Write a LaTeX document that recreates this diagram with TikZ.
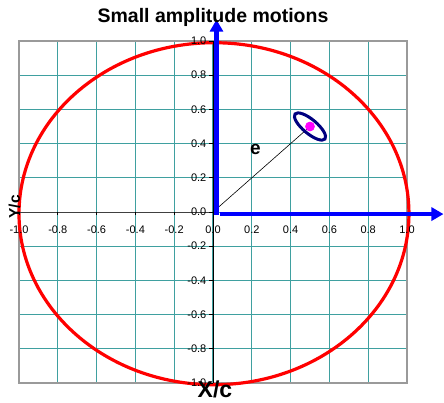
\documentclass[tikz,border=0pt]{standalone}
\usepackage{fontspec}
\setmainfont{Liberation Sans}
\usetikzlibrary{positioning,arrows.meta,shapes.geometric}
\definecolor{GridTeal}{HTML}{3FA0A0}
\definecolor{FrameGray}{HTML}{9A9A9A}
\definecolor{AxisBlue}{HTML}{0000FF}
\definecolor{OrbitNavy}{HTML}{000080}
\definecolor{DotMagenta}{HTML}{FF00FF}
\definecolor{RingRed}{HTML}{FF0000}

\begin{document}
\begin{tikzpicture}[>=Latex,x=194pt,y=171pt]
    \tikzstyle{ticklbl}=[font=\fontsize{11}{11}\selectfont,inner sep=0pt]
    \tikzstyle{axlbl}=[font=\bfseries\fontsize{23}{23}\selectfont,inner sep=0pt]
    \tikzstyle{bluearrow}=[-{Triangle[length=12pt,width=13pt]},AxisBlue,line width=4.5pt]
    \useasboundingbox (-1.0979,1.2398) rectangle (1.1907,-1.1111);
    \foreach \g in {-1,-0.8,-0.6,-0.4,-0.2,0,0.2,0.4,0.6,0.8,1} {
      \draw[GridTeal,line width=1pt] (\g,-1) -- (\g,1);
      \draw[GridTeal,line width=1pt] (-1,\g) -- (1,\g);
    }
    \draw[FrameGray,line width=1.3pt] (-1,-1) rectangle (1,1);
    \draw[RingRed,line width=3.2pt] (0.005,-0.01) ellipse [x radius=1.005,y radius=1];
    \coordinate (orig) at (0,0);
    \coordinate (xleft) at (-1,0);
    \coordinate (ybot) at (0,-1);
    \coordinate (ytop) at (0,1);
    \draw[black!75,line width=0.8pt] (xleft) -- (orig);
    \draw[black,line width=0.7pt] (ybot) -- (ytop);
    \foreach \g/\t [count=\i] in {-1/-1.0,-0.8/-0.8,-0.6/-0.6,-0.4/-0.4,-0.2/-0.2,0/0.0,0.2/0.2,0.4/0.4,0.6/0.6,0.8/0.8,1/1.0} {
      \draw[black,line width=0.7pt] (\g,0) -- ++(0pt,-3pt);
      \draw[black,line width=0.7pt] (0,\g) -- ++(-4pt,0pt);
      \node[ticklbl,anchor=base] (xl\i) at ([yshift=-21pt]\g,0) {\t};
      \node[ticklbl,anchor=east] (yl\i) at ([xshift=-6.5pt]0,\g) {\t};
    }
    \node[circle,fill=DotMagenta,minimum size=9.5pt,inner sep=0pt] (dot) at (0.5,0.5) {};
    \draw[black,line width=0.6pt] (orig) -- (dot.center);
    \coordinate (bxstart) at (0.035,-0.012);
    \coordinate (bxend)   at (1.188,-0.012);
    \coordinate (bystart) at (0.018,-0.015);
    \coordinate (byend)   at (0.018,1.125);
    \draw[bluearrow] (bxstart) -- (bxend);
    \draw[bluearrow] (bystart) -- (byend);
    \node[ellipse,draw=OrbitNavy,line width=3pt,minimum width=39pt,minimum height=14pt,inner sep=0pt,outer sep=0pt,rotate=-40] (orbit) at (0.5,0.5) {};
    \node[circle,fill=DotMagenta,minimum size=9.5pt,inner sep=0pt] at (dot) {};
    \node[font=\bfseries\fontsize{19}{19}\selectfont,inner sep=0pt] (elbl) at (0.219,0.363) {e};
    \node[font=\bfseries\fontsize{19.5}{20}\selectfont,anchor=base,inner sep=0pt] (title) at (0,1.111) {Small amplitude motions};
    \node[axlbl,anchor=base] (xlbl) at (0.01,-1.082) {X/c};
    \node[axlbl,font=\bfseries\fontsize{15.5}{16}\selectfont,anchor=base,rotate=90] (ylbl) at (-0.995,0.03) {Y/c};
  \end{tikzpicture}
\end{document}
